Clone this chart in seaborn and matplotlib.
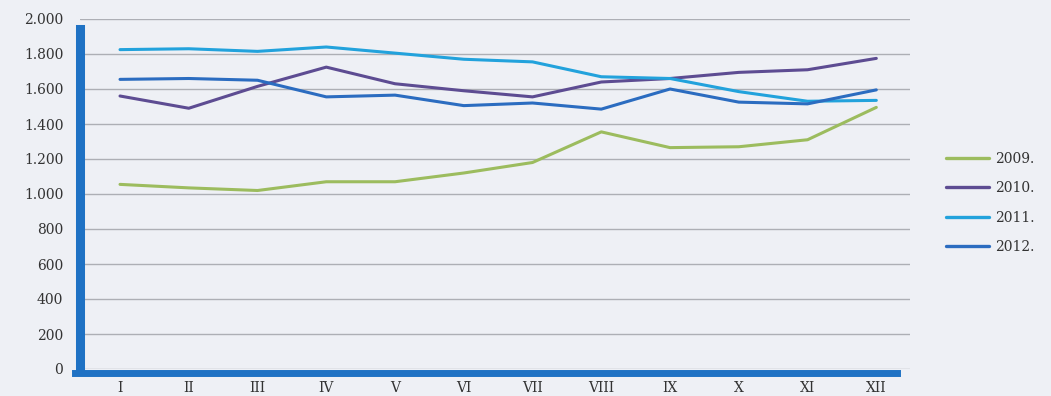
import matplotlib
matplotlib.use("Agg")
import matplotlib.pyplot as plt
from matplotlib.ticker import FuncFormatter
import seaborn as sns
import pandas as pd

months = ["I", "II", "III", "IV", "V", "VI", "VII", "VIII", "IX", "X", "XI", "XII"]
years = ["2009.", "2010.", "2011.", "2012."]
values_2009 = [1055, 1035, 1020, 1070, 1070, 1120, 1180, 1355, 1265, 1270, 1310, 1495]
values_2010 = [1560, 1490, 1615, 1725, 1630, 1590, 1555, 1640, 1660, 1695, 1710, 1775]
values_2011 = [1825, 1830, 1815, 1840, 1805, 1770, 1755, 1670, 1660, 1585, 1530, 1535]
values_2012 = [1655, 1660, 1650, 1555, 1565, 1505, 1520, 1485, 1600, 1525, 1515, 1595]
yticks = [0, 200, 400, 600, 800, 1000, 1200, 1400, 1600, 1800, 2000]

palette = ["#9cbc5e", "#5d4c92", "#22a2dc", "#2b6cc0"]
bg = "#eef0f5"

frames = []
for year, vals in zip(years, [values_2009, values_2010, values_2011, values_2012]):
    frames.append(pd.DataFrame({"month": list(range(len(months))), "value": vals, "year": year}))
df = pd.concat(frames, ignore_index=True)

sns.set_style("white")
plt.rcParams["font.family"] = ["DejaVu Serif"]

fig = plt.figure(figsize=(10.51, 3.96), dpi=100, facecolor=bg)
ax = fig.add_axes([80 / 1051, 27 / 396, 830 / 1051, 350 / 396], facecolor=bg)

sns.lineplot(data=df, x="month", y="value", hue="year", palette=palette,
             linewidth=2.2, ax=ax, legend=False, sort=False)

ax.set_xlim(-0.582, 11.49)
ax.set_ylim(0, 2000)
ax.set_yticks(yticks)
ax.yaxis.set_major_formatter(FuncFormatter(lambda v, p: f"{int(v):,}".replace(",", ".")))
ax.set_xticks(range(len(months)))
ax.set_xticklabels(months)
ax.set_xlabel("")
ax.set_ylabel("")

ax.grid(axis="y", color="#adafb5", linewidth=1.0)
ax.set_axisbelow(True)

for side in ["top", "right"]:
    ax.spines[side].set_visible(False)
ax.spines["left"].set_color("#1f72c4")
ax.spines["left"].set_linewidth(6.5)
ax.spines["left"].set_bounds(0, 1945)
ax.spines["left"].set_zorder(5)
ax.spines["bottom"].set_color("#1f72c4")
ax.spines["bottom"].set_linewidth(5)
ax.spines["bottom"].set_position(("outward", 3))
ax.spines["bottom"].set_bounds(-0.65, 11.3)
ax.spines["bottom"].set_zorder(5)

ax.tick_params(axis="y", length=0, pad=12, labelsize=10, labelcolor="#333333")
ax.tick_params(axis="x", length=0, pad=6, labelsize=10, labelcolor="#333333")

handles = [plt.Line2D([], [], color=c, linewidth=2.4) for c in palette]
fig.legend(handles, years, loc="upper left", bbox_to_anchor=(940 / 1051, 1 - 146 / 396),
           frameon=False, fontsize=10, handlelength=3.1, handletextpad=0.45,
           labelspacing=1.12, labelcolor="#333333", borderaxespad=0)

fig.savefig("out.png", dpi=100, facecolor=bg)
